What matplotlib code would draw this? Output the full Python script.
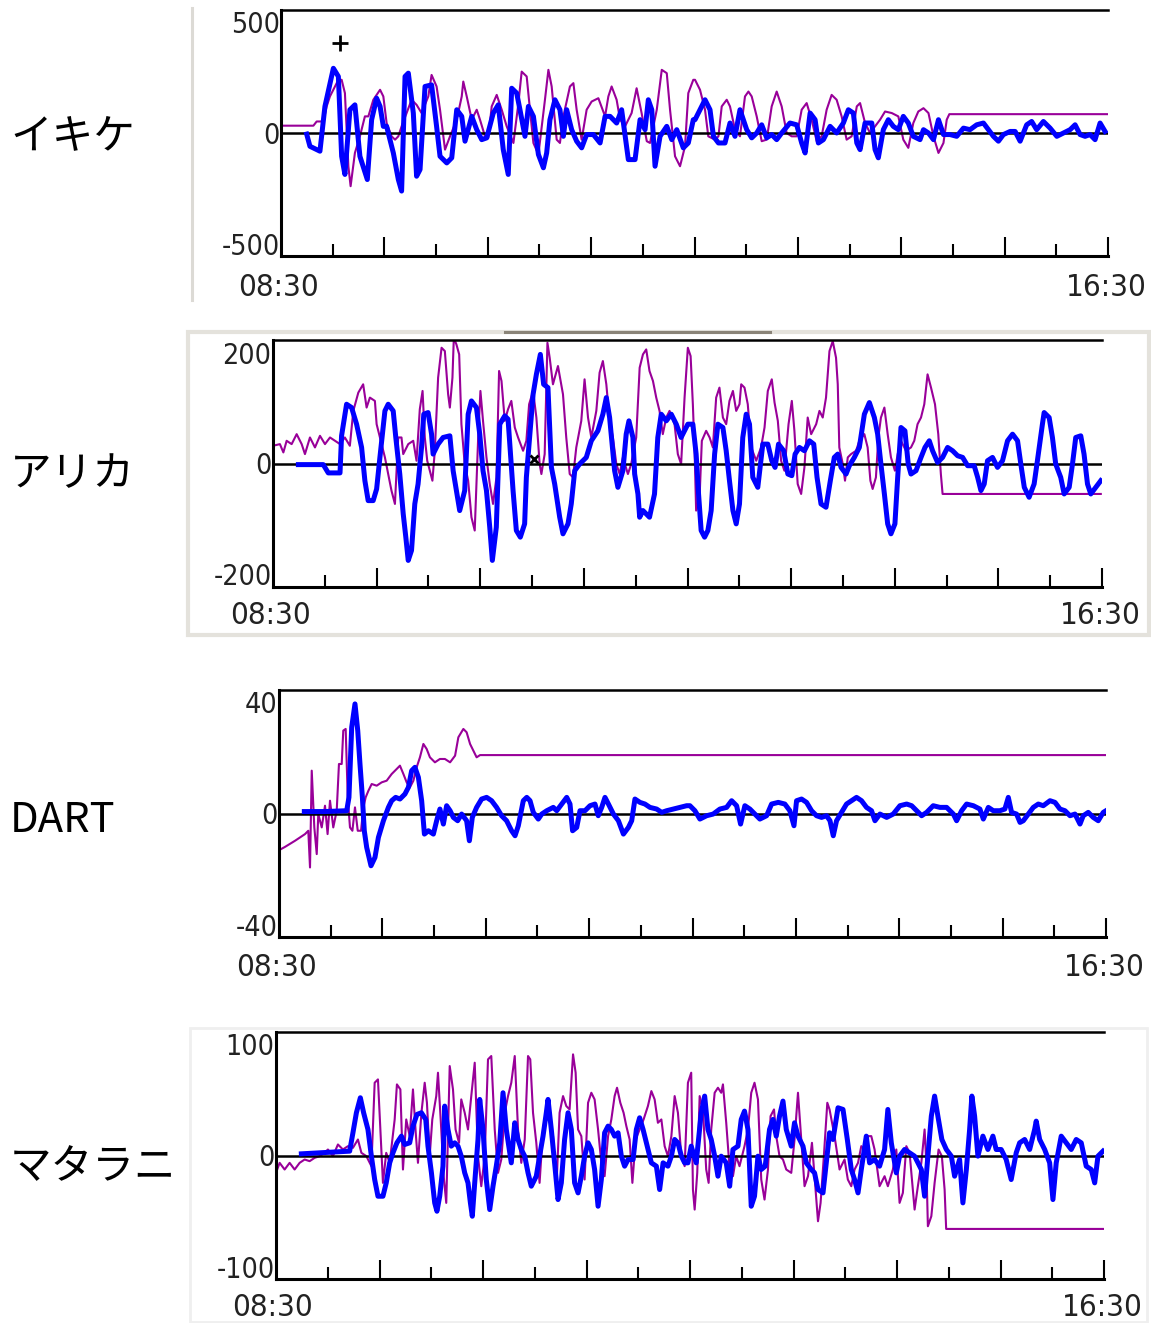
import matplotlib
matplotlib.use("Agg")
import matplotlib.pyplot as plt
from matplotlib.lines import Line2D
from matplotlib.patches import Rectangle

plt.rcParams.update({"font.family": ["DejaVu Sans"], "font.stretch": "condensed"})

W, H = 1151, 1323
BLUE = "#0000ff"
PURPLE = "#990099"

# time in minutes after 08:30, value in cm
IQUIQUE_BLUE = [
    (14.9, -5), (16.8, -60), (22.6, -82), (25.5, 120), (30.4, 292), (33.3, 255), (35.2, -105),
    (37.1, -187), (40.0, 105), (42.9, 127), (45.8, -105), (50.1, -210), (52.6, 60), (55.5, 157),
    (57.5, 120), (59.4, 30), (61.3, 30), (65.2, -90), (68.1, -210), (70.0, -262), (72.0, 255),
    (73.9, 270), (76.8, 90), (78.7, -195), (80.7, -165), (83.6, 210), (87.4, 217), (90.3, 30),
    (92.3, -105), (96.2, -135), (99.1, -112), (102.0, 105), (104.9, 75), (106.8, -37), (110.7, 75),
    (113.6, 15), (116.5, -30), (119.4, -22), (123.2, 90), (126.1, 127), (129.0, -75), (131.9, -187),
    (133.9, 202), (136.8, 180), (138.7, 105), (141.6, -15), (143.6, 120), (146.5, 75), (149.4, -97),
    (152.3, -157), (154.2, -90), (156.1, 60), (159.0, 150), (161.9, 105), (163.9, -15), (165.8, 105),
    (168.7, 15), (171.6, -37), (174.5, -67), (177.4, -7), (181.3, -7), (185.2, -45), (188.1, 75),
    (191.0, 75), (194.8, 45), (197.7, 105), (201.6, -120), (205.5, -120), (208.4, 60), (211.3, 15),
    (213.2, 150), (215.2, 105), (217.1, -150), (220.0, -15), (223.9, 30), (226.8, -30), (229.7, 15),
    (233.5, -67), (236.4, -45), (239.3, 60), (240.3, 60), (243.2, 105), (246.1, 150), (249.0, 105),
    (251.0, -15), (253.9, -45), (257.7, -45), (260.6, 45), (263.5, -15), (266.4, 105), (270.3, 15),
    (273.2, -22), (276.1, 0), (279.0, 37), (281.9, -22), (284.8, -7), (287.7, -30), (290.6, 0),
    (295.4, 45), (299.3, 37), (302.2, -45), (304.2, -90), (307.1, 90), (310.0, 60), (311.9, -45),
    (314.8, -30), (318.7, 30), (322.5, 0), (326.4, 45), (329.3, 105), (332.2, 90), (334.2, -45),
    (336.1, -75), (339.0, 45), (342.9, 45), (344.8, -75), (346.7, -112), (349.6, 15), (352.5, 60),
    (355.4, 30), (358.3, 15), (361.2, 75), (364.1, 45), (367.0, -15), (370.9, -30), (372.9, 15),
    (375.8, 0), (378.7, -30), (381.6, 60), (384.5, -7), (388.3, -7), (392.2, -15), (396.1, 22),
    (399.9, 15), (403.8, 37), (407.7, 45), (410.6, 15), (413.5, -15), (416.4, -37), (419.3, -7),
    (423.2, 7), (426.1, 7), (429.0, -37), (432.8, 37), (435.7, 52), (438.6, 15), (442.5, 52),
    (446.4, 22), (450.3, -15), (454.1, 0), (458.0, 15), (460.9, 37), (463.8, -7), (466.7, -15),
    (469.6, -7), (472.5, -30), (475.4, 45), (478.3, 7),
]
IQUIQUE_PURPLE = [
    (0, 33), (18.8, 33), (20.7, 52), (24.6, 52), (26.5, 120), (28.4, 165), (33.3, 240), (35.2, 240),
    (37.1, 180), (39.1, -150), (40.4, -240), (42.9, -90), (45.8, -15), (48.7, 75), (50.7, 75),
    (53.6, 150), (57.5, 195), (59.4, 165), (61.3, 45), (64.2, -15), (66.2, -30), (68.1, -15),
    (70.0, 30), (72.9, 90), (75.8, 150), (78.7, 127), (81.6, 90), (85.5, 165), (87.4, 262),
    (90.3, 210), (92.3, 105), (95.2, -75), (98.1, -15), (102.0, 60), (104.9, 165), (105.8, 232),
    (107.8, 165), (110.7, 60), (113.6, 105), (115.5, 60), (118.4, -15), (120.3, -22), (122.3, 120),
    (125.2, 172), (128.1, 105), (131.0, 30), (134.9, -45), (137.8, 135), (139.7, 277), (142.6, 255),
    (144.5, 105), (146.5, -45), (149.4, -97), (153.2, 150), (155.2, 285), (157.1, 210), (160.0, -30),
    (161.9, -45), (163.9, 75), (167.7, 210), (169.7, 225), (171.6, 105), (174.5, -30), (177.4, 105),
    (180.3, 142), (184.2, 157), (188.1, 75), (190.0, 165), (191.9, 210), (194.8, 150), (196.8, 60),
    (199.7, 30), (203.5, 90), (206.4, 202), (209.3, 90), (212.3, -37), (214.2, -45), (218.1, 105),
    (221.0, 285), (223.9, 270), (225.8, 105), (228.7, -105), (231.6, -150), (234.5, -60),
    (236.4, 180), (239.3, 240), (240.3, 240), (243.2, 195), (246.1, 105), (248.0, -15), (251.9, -30),
    (253.9, -15), (255.8, 120), (258.7, 150), (260.6, 120), (263.5, 15), (266.4, -15), (269.3, 165),
    (271.3, 187), (273.2, 165), (276.1, 75), (279.0, -37), (281.9, -30), (284.8, 120), (287.7, 187),
    (290.6, 120), (293.5, 0), (296.4, -15), (299.3, -15), (302.2, 105), (305.1, 135), (308.0, 60),
    (310.9, -37), (313.8, -15), (316.7, 105), (319.6, 172), (322.5, 150), (325.4, 75), (328.3, -30),
    (331.2, -15), (334.2, 120), (336.1, 135), (339.0, 45), (341.9, 0), (344.8, 30), (347.7, 60),
    (350.6, 97), (354.5, 90), (358.3, 75), (361.2, -30), (364.1, -67), (367.0, 45), (369.9, 97),
    (372.9, 112), (375.8, 90), (378.7, -15), (381.6, -90), (384.5, -45), (386.4, 60), (387.9, 85),
    (480, 85),
]
IQUIQUE_MARK = (34, 405)

ARICA_BLUE = [
    (14.7, -2), (29.1, -2), (32.0, -17), (38.8, -17), (39.7, 50), (42.6, 107), (45.5, 101),
    (48.4, 71), (51.3, 29), (53.2, -31), (55.1, -67), (58.0, -67), (60.0, -46), (61.9, 11),
    (64.8, 95), (66.7, 107), (69.6, 95), (71.1, 47), (73.4, -19), (75.4, -91), (76.9, -133),
    (78.3, -175), (80.2, -157), (82.1, -73), (84.0, -37), (86.0, 29), (87.3, 89), (89.8, 92),
    (91.8, 53), (92.7, 17), (95.6, 35), (98.5, 47), (102.4, 50), (104.3, -13), (106.2, -49),
    (108.1, -85), (111.0, -49), (113.0, 89), (114.9, 113), (117.8, 101), (119.7, 53), (121.6, -13),
    (123.6, -49), (125.5, -115), (127.0, -175), (129.3, -115), (131.3, 71), (134.2, 86), (136.1, 80),
    (139.0, -49), (140.9, -121), (143.2, -133), (145.7, -109), (146.7, -25), (148.6, 47),
    (150.6, 125), (152.5, 161), (154.8, 197), (156.7, 143), (159.2, 137), (161.2, -7), (163.1, -37),
    (166.0, -97), (167.9, -127), (170.8, -109), (172.7, -73), (174.7, -13), (177.5, -1), (181.4, 11),
    (184.3, 41), (188.1, 59), (191.0, 89), (193.0, 119), (194.9, 83), (197.8, -13), (199.7, -43),
    (202.6, -13), (204.5, 53), (206.1, 77), (208.4, 47), (209.4, -19), (211.3, -55), (212.3, -97),
    (214.2, -85), (218.0, -97), (220.9, -55), (222.8, 47), (224.8, 89), (227.7, 77), (230.6, 89),
    (233.5, 71), (236.3, 47), (240.2, 71), (243.1, 71), (245.0, 17), (246.4, -55), (247.9, -121),
    (249.9, -133), (251.8, -121), (253.7, -85), (255.7, 17), (257.6, 71), (260.5, 65), (262.4, 23),
    (264.3, -31), (266.3, -85), (268.2, -109), (270.1, -73), (272.0, 47), (274.0, 89), (275.9, 71),
    (277.8, -25), (280.7, -43), (283.6, 35), (286.5, 35), (288.8, 5), (290.7, -7), (292.7, 35),
    (295.7, 23), (298.1, -19), (300.4, -22), (302.3, 17), (304.8, 29), (307.7, 23), (310.6, 41),
    (313.1, 35), (315.0, -25), (317.3, -73), (320.2, -79), (322.7, -31), (325.0, 11), (327.0, 17),
    (328.9, -7), (331.8, -19), (333.7, -4), (336.6, 11), (339.5, 29), (342.4, 89), (345.3, 110),
    (348.2, 83), (350.1, 53), (352.0, -1), (354.0, -55), (355.9, -109), (357.8, -127), (360.1, -109),
    (361.7, -25), (363.6, 65), (365.9, 59), (367.8, -1), (369.4, -19), (372.3, -13), (375.2, 11),
    (377.5, 29), (380.0, 41), (381.9, 23), (384.8, 2), (387.7, 11), (390.6, 29), (393.5, 23),
    (396.4, 14), (399.3, 11), (402.2, -4), (406.0, -4), (408.0, -25), (409.9, -49), (411.8, -37),
    (413.7, 5), (416.6, 11), (419.5, -7), (422.4, 5), (425.3, 41), (428.2, 53), (431.1, 41),
    (433.0, -1), (435.0, -43), (437.8, -61), (440.7, -37), (442.6, 5), (445.5, 71), (446.5, 92),
    (449.4, 83), (451.3, 47), (453.2, -1), (456.1, -25), (458.1, -55), (461.0, -43), (462.9, -1),
    (464.8, 47), (467.7, 50), (469.6, 17), (471.6, -37), (473.5, -55), (476.4, -43), (479.3, -31),
]
ARICA_PURPLE = [
    (0, 32), (4.0, 35), (6.0, 20), (7.9, 41), (10.8, 35), (13.7, 53), (16.6, 35), (18.5, 17),
    (21.4, 47), (24.3, 29), (27.2, 50), (30.1, 35), (33.0, 47), (35.9, 41), (38.8, 35), (41.6, 47),
    (44.5, 32), (46.5, 95), (49.4, 128), (52.2, 143), (54.2, 101), (56.1, 119), (59.0, 113),
    (60.0, 71), (61.9, 47), (64.8, 11), (66.7, -19), (68.6, -49), (70.6, -73), (72.5, 47), (74.4, 47),
    (75.4, 17), (78.3, 35), (81.2, 41), (83.1, 5), (85.0, 98), (86.6, 131), (87.9, 47), (89.3, 5),
    (90.8, -13), (92.3, -31), (93.7, 23), (95.6, 155), (97.6, 209), (99.5, 203), (101.4, 125),
    (102.4, 101), (103.9, 155), (104.7, 227), (106.2, 215), (107.8, 197), (109.1, 71), (111.0, -1),
    (113.0, -31), (114.9, -97), (116.8, -121), (118.8, 47), (120.1, 131), (121.6, 77), (123.6, 11),
    (125.5, -37), (127.4, -73), (129.4, -25), (130.9, 167), (132.3, 149), (134.2, 77), (136.1, 98),
    (138.0, 113), (140.0, 65), (141.9, 47), (144.8, 23), (146.7, 41), (148.3, 107), (150.6, 131),
    (152.5, 83), (154.4, -1), (155.4, -19), (157.3, 17), (158.9, 218), (160.2, 191), (162.1, 143),
    (165.0, 176), (167.9, 125), (169.8, 47), (171.8, -19), (173.7, -25), (175.6, 29), (178.5, 77),
    (180.4, 152), (182.4, 83), (184.3, 47), (187.2, 95), (189.1, 164), (191.0, 185), (193.0, 143),
    (194.9, 77), (196.8, 47), (198.8, -1), (200.7, -19), (202.6, 11), (205.5, -19), (207.4, -1),
    (210.3, 47), (212.3, 173), (214.2, 197), (216.1, 206), (218.0, 167), (220.0, 149), (221.9, 119),
    (223.8, 95), (225.7, 53), (227.7, 83), (229.6, 95), (232.5, 71), (234.4, 17), (236.3, -1),
    (238.3, 119), (240.2, 209), (241.8, 194), (243.1, 107), (244.1, 23), (245.0, -85), (247.0, -61),
    (248.3, 41), (250.8, 59), (252.8, 47), (254.7, 29), (256.6, 119), (258.5, 137), (260.5, 83),
    (262.4, 71), (264.3, 113), (266.3, 131), (268.2, 95), (270.1, 107), (271.1, 143), (273.0, 137),
    (274.9, 107), (276.9, 29), (279.8, 5), (282.6, 29), (284.6, 65), (286.5, 131), (288.8, 152),
    (290.4, 110), (292.3, 77), (294.2, 5), (296.1, -13), (298.5, 71), (300.4, 113), (301.9, 59),
    (303.8, -37), (305.8, -55), (307.7, -7), (309.6, 83), (311.6, 53), (314.5, 71), (316.4, 95),
    (318.3, 83), (320.2, 119), (322.2, 203), (324.1, 221), (326.0, 191), (327.0, 143), (327.9, 29),
    (329.9, -1), (331.2, -31), (332.8, 11), (334.7, 17), (337.6, 23), (339.5, 41), (342.4, 53),
    (344.3, 29), (345.9, -31), (347.2, -46), (349.1, -25), (350.5, 47), (352.0, 83), (354.0, 101),
    (355.9, 53), (357.8, 11), (360.1, -13), (361.7, 17), (363.6, 41), (366.5, 23), (369.4, 29),
    (371.3, 41), (373.2, 71), (375.2, 83), (377.1, 107), (379.0, 161), (381.0, 137), (383.3, 107),
    (385.2, 53), (386.7, -19), (387.7, -55), (479.3, -55),
]
ARICA_MARK = (151, 8)

DART_BLUE = [
    (14.7, 0.7), (26.7, 0.7), (39.3, 1.0), (40.6, 5.8), (42.2, 31.0), (44.1, 39.4), (45.7, 29.8),
    (47.0, 17.8), (48.4, 5.8), (49.5, -6.2), (50.9, -12.2), (53.4, -18.8), (55.7, -15.8),
    (57.7, -8.6), (60.6, -2.6), (63.5, 2.2), (65.4, 4.6), (67.7, 5.8), (70.2, 5.2), (73.1, 7.0),
    (75.1, 9.4), (77.0, 15.4), (78.9, 16.6), (80.9, 13.0), (82.8, 4.6), (84.4, -7.4), (86.7, -6.2),
    (89.6, -7.4), (91.5, -2.6), (93.4, 1.6), (95.4, -3.8), (97.3, 2.8), (99.3, 1.0), (101.2, -1.4),
    (103.7, -2.6), (106.0, -0.2), (108.9, -2.6), (110.5, -9.8), (112.2, -1.4), (114.7, 2.2),
    (117.6, 5.2), (120.5, 5.8), (123.4, 4.6), (126.3, 2.2), (129.2, -0.8), (132.1, -2.6),
    (135.0, -6.2), (137.0, -8.0), (138.9, -4.4), (141.8, 4.6), (143.8, 5.8), (145.7, 4.6),
    (147.6, 0.4), (150.5, -2.0), (152.5, -0.2), (155.4, 1.0), (159.2, 2.2), (161.2, 1.0),
    (164.1, 3.4), (167.0, 5.8), (168.9, 3.4), (170.4, -6.2), (172.8, -5.0), (174.7, 1.0),
    (177.6, 1.0), (180.5, 2.8), (183.4, 3.4), (185.3, -0.8), (187.3, 2.2), (189.2, 5.8), (191.2, 3.4),
    (194.1, -0.2), (197.0, -2.6), (199.9, -7.4), (202.8, -5.0), (204.7, -2.6), (206.6, 5.2),
    (209.5, 4.0), (212.4, 3.4), (215.3, 2.2), (219.2, 1.6), (222.1, 0.4), (225.0, 1.0), (228.9, 1.6),
    (232.7, 2.2), (236.6, 2.8), (238.5, 2.8), (241.4, 1.0), (244.3, -2.0), (248.2, -0.8),
    (252.0, -0.2), (255.9, 1.6), (259.8, 2.2), (262.7, 4.6), (265.6, 2.8), (267.9, -3.8),
    (270.4, 2.8), (273.3, 1.6), (276.2, -0.2), (279.1, -2.0), (283.0, -0.8), (285.9, 3.4),
    (289.8, 4.0), (293.6, 3.4), (296.5, 1.0), (298.9, -4.4), (300.4, 4.6), (303.3, 5.2), (306.2, 4.0),
    (309.1, 1.0), (312.0, -0.8), (314.9, -1.4), (317.8, -0.8), (319.8, -2.6), (321.7, -8.0),
    (323.6, -2.6), (326.5, 0.4), (329.4, 3.4), (332.3, 4.6), (335.2, 5.8), (338.1, 4.6), (341.0, 2.2),
    (343.9, 1.0), (345.9, -2.6), (348.8, -0.2), (352.7, -1.4), (356.5, -0.2), (360.4, 2.8),
    (364.3, 3.4), (367.2, 2.8), (370.1, 1.0), (373.0, -0.8), (375.9, 0.4), (379.7, 2.8), (383.6, 2.2),
    (387.5, 2.2), (391.4, -0.2), (393.3, -2.6), (396.2, 1.0), (399.1, 3.4), (403.0, 2.8),
    (406.8, 1.6), (408.8, -2.0), (411.7, 2.2), (414.6, 1.0), (418.4, 1.0), (421.3, 1.6), (423.3, 5.8),
    (425.2, 0.4), (428.1, -0.2), (430.1, -3.2), (432.0, -2.6), (434.9, -0.2), (437.8, 2.2),
    (440.7, 3.4), (443.6, 2.8), (447.5, 4.6), (450.4, 4.0), (453.3, 1.6), (456.2, 1.0), (459.1, -0.8),
    (462.0, -0.2), (464.9, -3.8), (466.8, -0.8), (469.7, 0.4), (472.6, -1.4), (475.5, -2.6),
    (478.4, 0.4), (480, 1.0),
]
DART_PURPLE = [
    (0, -13.2), (3.5, -12.0), (9.3, -9.8), (15.1, -7.4), (17.0, -6.2), (18.0, -19.4), (19.0, 15.4),
    (20.5, -5.0), (21.9, -14.6), (22.8, -0.2), (24.8, -5.0), (26.7, 2.8), (28.2, -7.4), (29.6, 4.6),
    (31.5, -5.0), (33.5, 1.0), (34.8, 17.8), (36.4, 17.8), (37.3, 29.8), (38.7, 30.4), (39.9, 5.8),
    (41.2, -5.0), (42.6, -6.2), (44.1, 2.2), (45.7, -6.2), (47.6, -6.2), (49.0, 2.2), (50.3, 5.8),
    (51.9, 8.2), (53.8, 10.6), (56.7, 10.0), (59.6, 11.2), (62.5, 11.8), (65.4, 14.2), (68.3, 16.0),
    (70.2, 17.2), (72.2, 14.2), (74.1, 11.2), (76.0, 9.4), (78.0, 11.8), (79.9, 16.6), (81.8, 20.2),
    (83.8, 25.0), (85.7, 23.2), (87.6, 20.2), (90.5, 18.4), (93.4, 19.6), (96.3, 19.6), (99.3, 18.4),
    (102.2, 20.8), (104.1, 27.4), (107.0, 30.4), (108.9, 29.2), (110.9, 25.0), (112.8, 22.6),
    (114.7, 20.2), (116.7, 21.0), (480, 21.0),
]

MATARANI_BLUE = [
    (14.7, 1.5), (42.7, 3.9), (44.6, 20.4), (46.6, 38.4), (48.9, 51.9), (50.8, 38.4), (53.3, 23.4),
    (55.3, -0.6), (57.2, -21.6), (59.1, -36.6), (62.0, -36.6), (63.9, -24.6), (65.9, -6.6),
    (67.8, 2.4), (70.1, 11.4), (72.7, 17.4), (74.6, 9.9), (77.5, 11.4), (79.4, 26.4), (81.7, 36.9),
    (84.3, 38.4), (86.8, 32.4), (88.1, 8.4), (90.1, -15.6), (92.0, -42.6), (93.3, -50.1),
    (94.9, -36.6), (96.8, -9.6), (97.8, 44.4), (99.7, 23.4), (101.6, 8.4), (103.6, 11.4), (105.5, 8.4),
    (107.4, -0.6), (109.4, -15.6), (111.3, -24.6), (112.7, -42.6), (113.8, -54.6), (115.2, -24.6),
    (117.1, 14.4), (118.1, 50.4), (120.0, 23.4), (121.9, -21.6), (123.9, -48.6), (125.8, -27.6),
    (127.7, -9.6), (129.7, 11.4), (131.6, 56.4), (133.5, 23.4), (136.4, -6.6), (138.4, 29.4),
    (140.3, 14.4), (142.2, 5.4), (144.2, -0.6), (146.1, -15.6), (148.0, -27.6), (150.9, -18.6),
    (152.8, -0.6), (154.8, 17.4), (156.7, 38.4), (157.7, 50.4), (159.6, 23.4), (161.5, -6.6),
    (163.5, -39.6), (165.4, -24.6), (167.3, 14.4), (169.3, 38.4), (171.2, 23.4), (173.1, -24.6),
    (175.1, -33.6), (177.0, -18.6), (178.9, -0.6), (180.9, 11.4), (182.8, 5.4), (184.7, -12.6),
    (186.7, -45.6), (188.6, -21.6), (190.5, 20.4), (192.5, 26.4), (194.4, 23.4), (196.3, 17.4),
    (198.3, 20.4), (200.2, -0.6), (202.1, -9.6), (204.1, -3.6), (207.0, -3.6), (208.9, 23.4),
    (210.8, 33.9), (212.8, 23.4), (214.7, 11.4), (217.6, -6.6), (220.5, -9.6), (222.4, -30.6),
    (224.4, -6.6), (227.2, -9.6), (229.2, -0.6), (231.1, 14.4), (233.0, 11.4), (235.0, -0.6),
    (236.9, -6.6), (238.8, -6.6), (240.7, 8.4), (243.6, -6.6), (246.5, 38.4), (248.5, 53.4),
    (250.4, 23.4), (252.3, 14.4), (254.3, -0.6), (256.2, -18.6), (258.1, -0.6), (261.0, -6.6),
    (263.0, -27.6), (264.9, 5.4), (267.8, 8.4), (269.7, 32.4), (271.6, 39.9), (273.6, 23.4),
    (275.5, -45.6), (277.4, -36.6), (279.4, -0.6), (281.3, -12.6), (283.6, -9.6), (286.1, 23.4),
    (288.1, 32.4), (290.0, 17.4), (291.9, 35.4), (293.9, 48.9), (295.8, 23.4), (298.7, 8.4),
    (300.6, 29.4), (302.6, 17.4), (305.5, 8.4), (307.4, -6.6), (310.3, -12.6), (312.2, -15.6),
    (314.2, -30.6), (317.1, -33.6), (319.0, -6.6), (320.9, 20.4), (322.9, 14.4), (325.8, 42.9),
    (328.7, 41.4), (331.2, 14.4), (333.5, -12.6), (335.4, -21.6), (337.4, -33.6), (339.3, -12.6),
    (342.2, 17.4), (344.1, -6.6), (347.0, -3.6), (349.9, -9.6), (352.8, 5.4), (354.7, 41.4),
    (356.7, 11.4), (359.6, -15.6), (361.5, -0.6), (364.4, 5.4), (367.3, 2.4), (370.2, -0.6),
    (374.1, -12.6), (376.0, -36.6), (377.9, -0.6), (379.9, 35.4), (381.8, 53.4), (383.7, 35.4),
    (386.0, 14.4), (388.6, 5.4), (391.5, -0.6), (393.4, -18.6), (396.3, -3.6), (398.2, -42.6),
    (400.2, -12.6), (402.1, 23.4), (403.4, 53.4), (405.0, 35.4), (406.9, -0.6), (409.8, 17.4),
    (412.7, 5.4), (415.6, 17.4), (417.5, 5.4), (420.4, 5.4), (423.3, -3.6), (426.2, -21.6),
    (429.1, 2.4), (431.1, 11.4), (434.0, 14.4), (436.9, 5.4), (439.8, 23.4), (440.7, 30.9),
    (442.7, 14.4), (445.6, 5.4), (448.5, -6.6), (450.4, -39.6), (452.3, -6.6), (455.2, 17.4),
    (458.1, 11.4), (461.0, 5.4), (463.9, 14.4), (466.8, 11.4), (469.7, -9.6), (472.6, -12.6),
    (474.6, -24.6), (476.5, -0.6), (479.4, 3.9),
]
MATARANI_PURPLE = [
    (0, -15.6), (2.1, -6.6), (5.0, -12.6), (7.9, -6.6), (10.8, -12.6), (13.7, -6.6), (16.6, -3.6),
    (19.5, -5.1), (22.4, -2.1), (25.3, -0.6), (28.2, 2.4), (30.1, 5.4), (33.0, -0.6), (35.9, 9.9),
    (38.8, 5.4), (41.7, 8.4), (44.6, 6.9), (47.5, 14.4), (49.5, 2.4), (52.4, -0.6), (55.3, -9.6),
    (57.2, 65.4), (59.1, 68.4), (60.5, 23.4), (62.0, -24.6), (63.9, 2.4), (65.9, -6.6), (68.8, 32.4),
    (70.1, 63.9), (72.1, 59.4), (73.6, -12.6), (75.5, 32.4), (77.5, 17.4), (79.4, 59.4), (81.0, 20.4),
    (82.3, -6.6), (84.3, 38.4), (86.2, 65.4), (87.5, 47.4), (89.1, -0.6), (90.6, 32.4), (92.9, 53.4),
    (93.9, 74.4), (95.8, 23.4), (97.2, -18.6), (98.7, -42.6), (100.7, 80.4), (102.6, 59.4),
    (104.1, 23.4), (106.1, 11.4), (107.4, 50.4), (109.4, 38.4), (111.3, 23.4), (113.2, 53.4),
    (115.2, 83.4), (117.1, -0.6), (119.0, -27.6), (121.0, -0.6), (122.9, 86.4), (124.8, 89.4),
    (126.8, 23.4), (128.7, -15.6), (130.6, -3.6), (132.6, 38.4), (134.5, 53.4), (136.4, 65.4),
    (138.4, 89.4), (140.3, 23.4), (142.2, -6.6), (144.2, 14.4), (146.1, 89.4), (147.4, 86.4),
    (149.0, 38.4), (150.9, 11.4), (152.8, -24.6), (154.8, 23.4), (156.7, 41.4), (158.6, 32.4),
    (160.6, 17.4), (162.5, -30.6), (164.4, 38.4), (166.4, 53.4), (168.3, 44.4), (170.2, 41.4),
    (172.2, 90.9), (173.7, 74.4), (175.1, 23.4), (177.0, 17.4), (178.9, -21.6), (180.9, 47.4),
    (182.8, 56.4), (184.7, 50.4), (186.7, 23.4), (188.6, -6.6), (190.5, -18.6), (192.5, 17.4),
    (194.4, 32.4), (196.3, 53.4), (197.7, 60.9), (199.6, 47.4), (201.5, 38.4), (203.1, 26.4),
    (205.0, 14.4), (206.6, -24.6), (208.5, 14.4), (210.8, 23.4), (213.1, 32.4), (215.6, 44.4),
    (217.6, 57.9), (219.5, 50.4), (221.4, 29.4), (223.4, 32.4), (225.3, 8.4), (227.2, -0.6),
    (229.2, 17.4), (231.1, 53.4), (233.0, 38.4), (235.0, -0.6), (236.9, -9.6), (238.8, 65.4),
    (240.7, 74.4), (241.7, -30.6), (242.7, -48.6), (244.2, -15.6), (245.6, 53.4), (247.5, 41.4),
    (249.4, -12.6), (250.8, -24.6), (252.3, 23.4), (254.3, 56.4), (256.2, 60.9), (258.1, 56.4),
    (259.1, 63.9), (261.0, 29.4), (263.0, -12.6), (264.9, -18.6), (266.8, -0.6), (268.7, -9.6),
    (271.6, 8.4), (273.6, 23.4), (275.5, 56.4), (277.4, 65.4), (279.4, 50.4), (281.3, -21.6),
    (283.2, -39.6), (285.2, -12.6), (286.7, 35.4), (288.7, 41.4), (290.0, 17.4), (291.9, -0.6),
    (293.9, -3.6), (295.8, -12.6), (298.7, -15.6), (300.6, 14.4), (302.6, 56.4), (304.5, 14.4),
    (306.4, -27.6), (308.4, -18.6), (310.7, 11.4), (312.2, -18.6), (314.2, -59.1), (315.7, -42.6),
    (317.6, -0.6), (319.6, 47.4), (320.9, 41.4), (323.8, 17.4), (326.7, -12.6), (329.6, -3.6),
    (331.5, -21.6), (333.5, -27.6), (335.4, -12.6), (337.4, -6.6), (339.3, 8.4), (341.2, 5.4),
    (343.1, 17.4), (345.1, 17.4), (347.0, 5.4), (349.9, -27.6), (352.8, -18.6), (354.7, -27.6),
    (357.6, -12.6), (359.6, 5.4), (361.5, -42.6), (363.4, -33.6), (365.4, 8.4), (367.3, 2.4),
    (370.2, -48.6), (372.1, -27.6), (374.1, -6.6), (376.0, 23.4), (377.0, -6.6), (377.9, -63.6),
    (379.9, -54.6), (381.8, -24.6), (384.1, 5.4), (386.0, -0.6), (387.6, -30.6), (388.5, -66.0),
    (480, -66.0),
]

STATIONS = ["イキケ", "アリカ", "DART", "マタラニ"]
SERIES = [(IQUIQUE_BLUE, IQUIQUE_PURPLE), (ARICA_BLUE, ARICA_PURPLE),
          (DART_BLUE, DART_PURPLE), (MATARANI_BLUE, MATARANI_PURPLE)]
Y_LIMITS = [555, 223, 44.4, 111]
Y_TICKS = [500, 200, 40, 100]
TIME_LABELS = ["08:30", "16:30"]

# pixel layout of the screenshot: axes box, station label y, time label y
LAYOUT = [
    ((281, 10, 1108, 256), 137, 287),
    ((273, 340, 1102, 587), 475, 615),
    ((279, 690, 1106, 937), 820, 967),
    ((276, 1032, 1104, 1279), 1168, 1308),
]


def fx(x):
    return x / W


def fy(y):
    return 1 - y / H


def draw_panel(fig, box, blue, purple, lim, tick):
    x0, y0, x1, y1 = box
    ax = fig.add_axes([fx(x0), fy(y1), (x1 - x0) / W, (y1 - y0) / H])
    ax.set_xlim(0, 480)
    ax.set_ylim(-lim, lim)
    t, v = zip(*purple)
    ax.plot(t, v, color=PURPLE, lw=1.5, zorder=2)
    ax.axhline(0, color="black", lw=1.8, zorder=3)
    t, v = zip(*blue)
    ax.plot(t, v, color=BLUE, lw=3.6, zorder=4)

    for s in ("left", "bottom"):
        ax.spines[s].set_linewidth(2.2)
    ax.spines["top"].set_linewidth(1.8)
    ax.spines["right"].set_visible(False)

    ax.set_xticks(range(60, 481, 60))
    ax.set_xticks(range(30, 480, 60), minor=True)
    ax.tick_params(axis="x", which="major", direction="in", length=14, width=1.5,
                   labelbottom=False)
    ax.tick_params(axis="x", which="minor", direction="in", length=8.5, width=1.5)
    ax.set_yticks([-tick, 0, tick])
    ax.set_yticklabels(["-%d" % tick, "0", "%d" % tick])
    ax.tick_params(axis="y", length=0, pad=1, labelsize=20.5, labelcolor="#222222")
    return ax


fig = plt.figure(figsize=(W / 100, H / 100), dpi=100)

# screenshot window frames
fig.add_artist(Line2D([fx(192), fx(192)], [fy(8), fy(300)], color="#dcdad5", lw=2.2))
fig.add_artist(Rectangle((fx(188), fy(635)), (1149 - 188) / W, (635 - 332) / H,
                         fill=False, ec="#e4e2dc", lw=3))
fig.add_artist(Line2D([fx(505), fx(770)], [fy(332), fy(332)], color="#8a8478", lw=2.2))
fig.add_artist(Rectangle((fx(190), fy(1322)), (1147 - 190) / W, (1322 - 1028) / H,
                         fill=False, ec="#efefef", lw=2))

for i, (box, label_y, time_y) in enumerate(LAYOUT):
    blue, purple = SERIES[i]
    ax = draw_panel(fig, box, blue, purple, Y_LIMITS[i], Y_TICKS[i])
    fig.text(fx(10), fy(label_y), STATIONS[i], fontsize=30, va="center", ha="left",
             family=["Noto Sans CJK JP", "DejaVu Sans"])
    fig.text(fx(box[0] - 3), fy(time_y), TIME_LABELS[0], fontsize=22.5, ha="center",
             va="center", color="#222222")
    fig.text(fx(box[2] - 2), fy(time_y), TIME_LABELS[1], fontsize=22.5, ha="center",
             va="center", color="#222222")
    if i == 0:
        ax.plot(*IQUIQUE_MARK, marker="+", color="black", ms=11, mew=2, zorder=5)
    if i == 1:
        ax.plot(*ARICA_MARK, marker="x", color="black", ms=6, mew=2, zorder=5)

fig.savefig("out.png", dpi=100)
